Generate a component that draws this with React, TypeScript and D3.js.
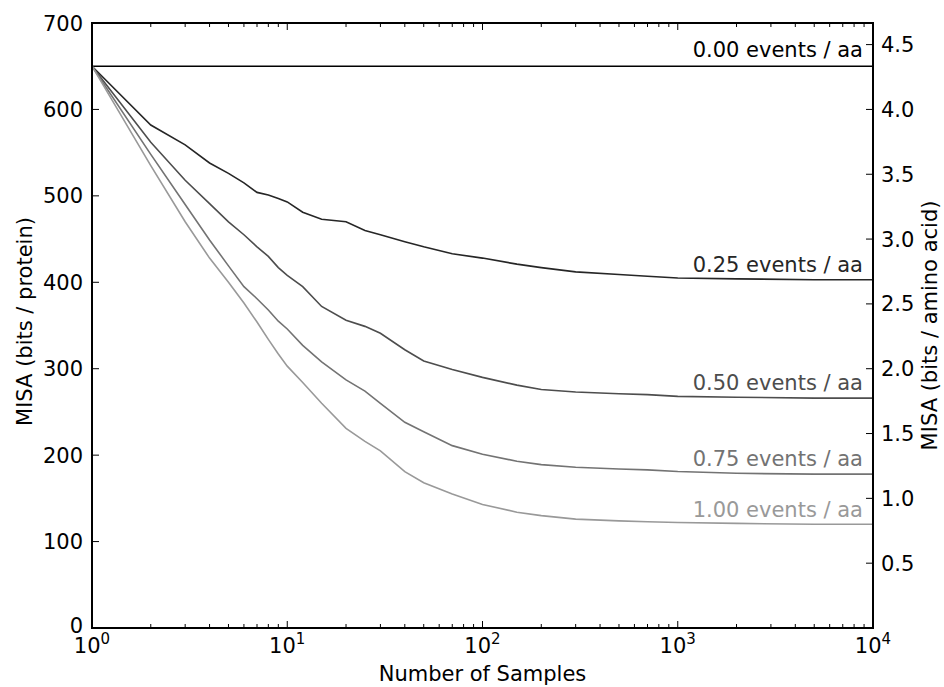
import React from "react";
import { scaleLog, scaleLinear, line, range } from "d3";

const samples = [1, 2, 3, 4, 5, 6, 7, 8, 9, 10, 12, 15, 20, 25, 30, 40, 50, 70, 100, 150, 200, 300, 500, 700, 1000, 2000, 5000, 10000];

// MISA (bits / protein) per event rate
const rate000 = [650, 650, 650, 650, 650, 650, 650, 650, 650, 650, 650, 650, 650, 650, 650, 650, 650, 650, 650, 650, 650, 650, 650, 650, 650, 650, 650, 650];
const rate025 = [650, 582, 559, 538, 526, 515, 504, 501, 497, 493, 481, 473, 470, 460, 455, 447, 441, 433, 428, 421, 417, 412, 409, 407, 405, 404, 403, 403];
const rate050 = [650, 562, 518, 491, 470, 455, 441, 430, 417, 408, 395, 372, 356, 349, 341, 322, 309, 299, 290, 281, 276, 273, 271, 270, 268, 267, 266, 266];
const rate075 = [650, 548, 490, 449, 419, 395, 381, 368, 355, 346, 327, 308, 287, 274, 260, 238, 227, 211, 201, 193, 189, 186, 184, 183, 181, 179, 178, 178];
const rate100 = [650, 535, 470, 428, 400, 376, 354, 334, 317, 303, 284, 260, 231, 216, 205, 181, 168, 155, 143, 134, 130, 126, 124, 123, 122, 121, 120, 120];

const seriesNames = ["0.00 events / aa", "0.25 events / aa", "0.50 events / aa", "0.75 events / aa", "1.00 events / aa"];
const seriesValues = [rate000, rate025, rate050, rate075, rate100];
const seriesColors = ["#000000", "#262626", "#4d4d4d", "#737373", "#999999"];
// label baselines, in bits / protein
const labelLevels = [661, 412, 275, 188, 129];

const leftTicks = [0, 100, 200, 300, 400, 500, 600, 700];
const rightTicks = [0.5, 1.0, 1.5, 2.0, 2.5, 3.0, 3.5, 4.0, 4.5];
const decades = [0, 1, 2, 3, 4];
const aaPerProtein = 150;

const W = 944;
const H = 687;
const margin = { left: 92, right: 71, top: 23, bottom: 59 };
const font = "DejaVu Sans";
const fs = 21;

export default function App() {
  const x = scaleLog().domain([1, 10000]).range([margin.left, W - margin.right]);
  const y = scaleLinear().domain([0, 700]).range([H - margin.bottom, margin.top]);
  const y2 = scaleLinear().domain([0, 700 / aaPerProtein]).range([H - margin.bottom, margin.top]);

  const x0 = margin.left, x1 = W - margin.right;
  const yTop = margin.top, yBot = H - margin.bottom;

  const minor: number[] = [];
  decades.slice(0, -1).forEach(d => {
    range(2, 10).forEach(m => minor.push(m * Math.pow(10, d)));
  });

  const path = line<number>()
    .x((_, i) => x(samples[i]))
    .y(v => y(v));

  return (
    <svg width={W} height={H} style={{ position: "absolute", left: 0, top: 0, background: "#fff" }} fontFamily={font}>
      {/* curves */}
      {seriesValues.map((vals, i) => (
        <path key={i} d={path(vals) || ""} fill="none" stroke={seriesColors[i]} strokeWidth={1.6} />
      ))}
      {seriesNames.map((n, i) => (
        <text key={n} x={x1 - 10} y={y(labelLevels[i])} textAnchor="end" fontSize={fs} fill={seriesColors[i]}>{n}</text>
      ))}

      {/* x ticks, bottom and top */}
      {decades.map(d => {
        const px = x(Math.pow(10, d));
        return (
          <g key={d}>
            <line x1={px} x2={px} y1={yBot} y2={yBot - 7} stroke="#000" strokeWidth={1} />
            <line x1={px} x2={px} y1={yTop} y2={yTop + 7} stroke="#000" strokeWidth={1} />
            <text x={px} y={653} textAnchor="middle" fontSize={fs} fill="#000">
              10<tspan dy={-9} fontSize={15}>{d}</tspan>
            </text>
          </g>
        );
      })}
      {minor.map(v => (
        <g key={v}>
          <line x1={x(v)} x2={x(v)} y1={yBot} y2={yBot - 4} stroke="#000" strokeWidth={1} />
          <line x1={x(v)} x2={x(v)} y1={yTop} y2={yTop + 4} stroke="#000" strokeWidth={1} />
        </g>
      ))}

      {/* left axis */}
      {leftTicks.map(t => (
        <g key={t}>
          <line x1={x0} x2={x0 + 7} y1={y(t)} y2={y(t)} stroke="#000" strokeWidth={1} />
          <text x={x0 - 9} y={t === 0 ? y(t) - 3 : y(t)} dy="0.36em" textAnchor="end" fontSize={fs} fill="#000">{t}</text>
        </g>
      ))}

      {/* right axis */}
      {rightTicks.map(t => (
        <g key={t}>
          <line x1={x1} x2={x1 - 7} y1={y2(t)} y2={y2(t)} stroke="#000" strokeWidth={1} />
          <text x={x1 + 8} y={y2(t)} dy="0.36em" textAnchor="start" fontSize={fs} fill="#000">{t.toFixed(1)}</text>
        </g>
      ))}

      {/* frame */}
      <rect x={x0} y={yTop} width={x1 - x0} height={yBot - yTop} fill="none" stroke="#000" strokeWidth={2} />

      {/* titles */}
      <text x={(x0 + x1) / 2} y={681} textAnchor="middle" fontSize={fs} fill="#000">Number of Samples</text>
      <text transform={`translate(32, ${(yTop + yBot) / 2 - 4}) rotate(-90)`} textAnchor="middle" fontSize={fs} fill="#000">MISA (bits / protein)</text>
      <text transform={`translate(937, ${(yTop + yBot) / 2}) rotate(-90)`} textAnchor="middle" fontSize={fs} fill="#000">MISA (bits / amino acid)</text>
    </svg>
  );
}
